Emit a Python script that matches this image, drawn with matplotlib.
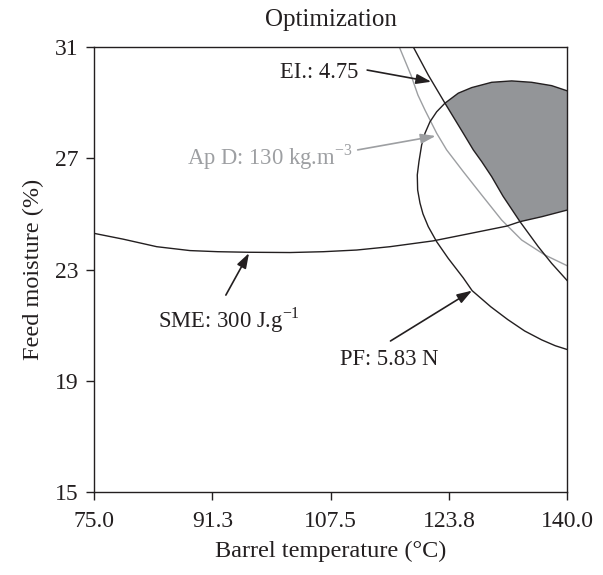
"""
Optimization overlay plot: SME, EI, Ap D and PF contour lines over
barrel temperature vs feed moisture, with the feasible region shaded.
"""
import matplotlib
matplotlib.use("Agg")
import matplotlib.pyplot as plt
import numpy as np

# --- data (barrel temp degC, feed moisture %) ---
sme_x = [75.0, 79.02, 83.61, 88.18, 92.0, 96.18, 101.9, 106.48, 111.06,
         115.63, 121.58, 126.16, 131.65, 133.48, 136.5, 140.0]
sme_y = [24.30, 24.09, 23.82, 23.68, 23.64, 23.62, 23.61, 23.64, 23.70,
         23.82, 24.03, 24.27, 24.56, 24.72, 24.90, 25.14]

ei_x = [118.83, 120.89, 123.18, 125.69, 127.07, 128.22, 129.59, 131.14,
        133.48, 135.99, 137.83, 140.0]
ei_y = [31.0, 29.99, 28.98, 27.90, 27.30, 26.88, 26.34, 25.64,
        24.72, 23.82, 23.22, 22.59]

apd_x = [116.91, 118.51, 119.47, 120.44, 122.04, 123.41, 125.69, 128.22,
         130.96, 133.71, 136.91, 140.0]
apd_y = [31.0, 29.99, 29.27, 28.73, 27.90, 27.30, 26.52, 25.68,
         24.78, 24.06, 23.52, 23.13]

# PF contour, from the right edge (top) round the left side to the right edge (bottom)
pf_x = [140.0, 137.83, 135.08, 132.34, 129.59, 126.85, 125.01, 123.18,
        122.04, 121.12, 120.44, 119.98, 119.61, 119.38, 119.43, 119.75,
        120.16, 120.89, 122.04, 123.63, 125.69, 126.91, 129.47, 131.80,
        134.12, 136.46, 138.32, 140.0]
pf_y = [29.42, 29.61, 29.73, 29.78, 29.73, 29.54, 29.34, 28.98,
        28.67, 28.31, 27.90, 27.48, 26.88, 26.40, 25.86, 25.39,
        25.00, 24.54, 24.00, 23.40, 22.70, 22.24, 21.66, 21.20,
        20.79, 20.47, 20.26, 20.12]

x_ticks = [75.0, 91.25, 107.5, 123.75, 140.0]
x_ticklabels = ["75.0", "91.3", "107.5", "123.8", "140.0"]
y_ticks = [15, 19, 23, 27, 31]

# labels: (text, text position, arrow tail, arrow tip, colour)
BLACK = "#231f20"
GREY = "#9d9fa2"
FILL = "#939598"
annotations = [
    ("EI.: 4.75", (100.5, 30.10), (112.5, 30.17), (121.3, 29.75), BLACK),
    ("Ap D: 130 kg.m$^{-3}$", (87.8, 27.04), (111.2, 27.30), (121.9, 27.80), GREY),
    ("SME: 300 J.g$^{-1}$", (83.8, 21.18), (93.1, 22.08), (96.28, 23.59), BLACK),
    ("PF: 5.83 N", (108.8, 19.78), (115.7, 20.43), (126.9, 22.24), BLACK),
]

plt.rcParams["font.family"] = ["Liberation Serif", "DejaVu Serif"]
plt.rcParams["mathtext.fontset"] = "custom"
plt.rcParams["mathtext.rm"] = "Liberation Serif"

fig = plt.figure(figsize=(6.03, 5.75), dpi=100)
ax = fig.add_axes([0.1559, 0.1443, 0.7852, 0.7740])

# --- shaded feasible region: right of EI, above SME, below PF top ---
ei_seg = [(x, y) for x, y in zip(ei_x, ei_y) if 123.18 <= x <= 133.48]
sme_seg = [(x, y) for x, y in zip(sme_x, sme_y) if x > 133.48]
pf_seg = list(zip(pf_x[:8], pf_y[:8]))
poly = np.array(ei_seg + sme_seg + pf_seg)
ax.fill(poly[:, 0], poly[:, 1], color=FILL, lw=0, zorder=1)

lw = 1.0
ax.plot(sme_x, sme_y, color=BLACK, lw=lw, zorder=3)
ax.plot(ei_x, ei_y, color=BLACK, lw=lw, zorder=3)
ax.plot(apd_x, apd_y, color=GREY, lw=lw, zorder=2)
ax.plot(pf_x, pf_y, color=BLACK, lw=lw, zorder=3)

for text, pos, tail, tip, col in annotations:
    ax.text(pos[0], pos[1], text, color=col, fontsize=16.3,
            ha="left", va="center", zorder=4)
    ax.annotate("", xy=tip, xytext=tail,
                arrowprops=dict(arrowstyle="-|>,head_length=0.9,head_width=0.3",
                                color=col, lw=1.2, shrinkA=0, shrinkB=0),
                zorder=4)

ax.set_xlim(75, 140)
ax.set_ylim(15, 31)
ax.set_xticks(x_ticks)
ax.set_xticklabels(x_ticklabels)
ax.set_yticks(y_ticks)
ax.tick_params(direction="out", length=6, width=1.0, colors=BLACK,
               labelsize=17, pad=5, top=False, right=False)
ax.tick_params(axis="x", pad=8)
for s in ax.spines.values():
    s.set_color(BLACK)
    s.set_linewidth(1.0)

ax.set_xlabel("Barrel temperature (\u00b0C)", fontsize=17.5, color=BLACK, labelpad=6)
ax.set_ylabel("Feed moisture (%)", fontsize=17.5, color=BLACK, labelpad=8)
ax.set_title("Optimization", fontsize=18, color=BLACK, pad=15)

fig.savefig("out.png", dpi=100)
